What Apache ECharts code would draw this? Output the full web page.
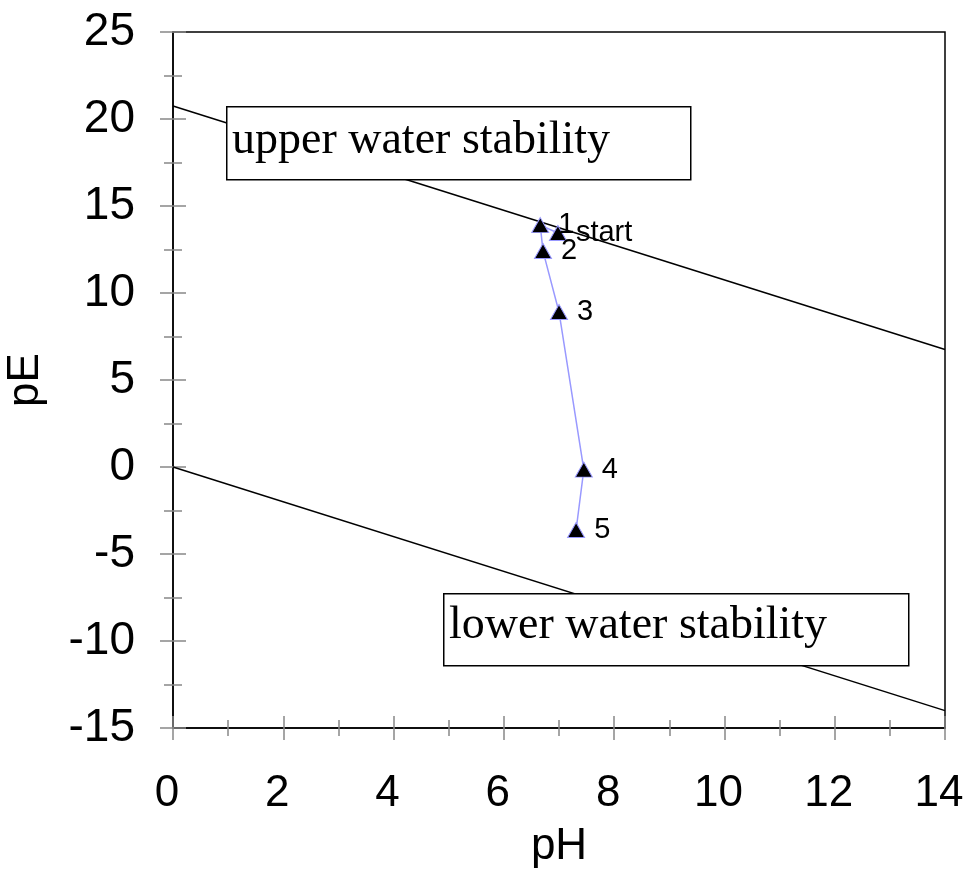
<!DOCTYPE html>
<html><head><meta charset="utf-8">
<script src="https://cdn.jsdelivr.net/npm/echarts@6/dist/echarts.min.js"></script>
<style>html,body{margin:0;padding:0;background:#fff}#c{width:968px;height:871px}</style>
</head><body><div id="c"></div>
<script>
const pointNames = ['start', '1', '2', '3', '4', '5'];
const pointPH = [6.98, 6.66, 6.71, 7.0, 7.45, 7.31];
const pointPE = [13.45, 13.9, 12.41, 8.91, -0.15, -3.62];
const upperLine = [[0, 20.75], [14, 6.75]];
const lowerLine = [[0, 0], [14, -14]];
const xTicks = {min: 0, max: 14, interval: 2};
const yTicks = {min: -15, max: 25, interval: 5};
const upperText = 'upper water stability';
const lowerText = 'lower water stability';

const chart = echarts.init(document.getElementById('c'));
const font = 'Liberation Sans, Arial, sans-serif';
const serif = '46px "Liberation Serif", "Times New Roman", serif';
function mkX(inside, main) {
  return {
    type: 'value', min: xTicks.min, max: xTicks.max, interval: xTicks.interval,
    position: 'bottom',
    name: main ? 'pH' : '', nameLocation: 'middle', nameGap: 97,
    nameTextStyle: {fontSize: 44, fontFamily: font, color: '#000'},
    axisLine: {show: main, onZero: false, lineStyle: {color: '#000', width: 1.5}},
    axisTick: {show: true, inside: inside, length: 12, lineStyle: {color: '#888', width: 1.5}},
    minorTick: {show: true, splitNumber: 2, length: 8, lineStyle: {color: '#888', width: 1.5}},
    axisLabel: {show: main, fontSize: 44, fontFamily: font, color: '#000', margin: 44, padding: [0, 12, 0, 0]},
    splitLine: {show: false}, minorSplitLine: {show: false}
  };
}
function mkY(inside, main) {
  return {
    type: 'value', min: yTicks.min, max: yTicks.max, interval: yTicks.interval,
    position: 'left',
    name: main ? 'pE' : '', nameLocation: 'middle', nameGap: 125,
    nameTextStyle: {fontSize: 44, fontFamily: font, color: '#000'},
    axisLine: {show: main, onZero: false, lineStyle: {color: '#000', width: 1.5}},
    axisTick: {show: true, inside: inside, length: 13, lineStyle: {color: '#888', width: 1.5}},
    minorTick: {show: true, splitNumber: 2, length: 9, lineStyle: {color: '#888', width: 1.5}},
    axisLabel: {show: main, fontSize: 46, fontFamily: font, color: '#000', margin: 38},
    splitLine: {show: false}, minorSplitLine: {show: false}
  };
}
const pts = pointPH.map((x, i) => ({name: pointNames[i], value: [x, pointPE[i]]}));
chart.setOption({
  animation: false,
  grid: {left: 173, right: 23, top: 32, bottom: 143, containLabel: false, outerBoundsMode: 'none',
    show: true, borderColor: '#000', borderWidth: 1.5, backgroundColor: 'transparent'},
  xAxis: [mkX(false, true), mkX(true, false)],
  yAxis: [mkY(false, true), mkY(true, false)],
  series: [
    {type: 'line', data: upperLine, showSymbol: false, symbol: 'none', lineStyle: {color: '#000', width: 1.5}, z: 2, silent: true},
    {type: 'line', data: lowerLine, showSymbol: false, symbol: 'none', lineStyle: {color: '#000', width: 1.5}, z: 2, silent: true},
    {type: 'line', data: pts, symbol: 'triangle', symbolSize: [17, 15], showSymbol: true,
      lineStyle: {color: '#9999ff', width: 1.5},
      itemStyle: {color: '#000', borderColor: '#9999ff', borderWidth: 1},
      label: {show: true, position: 'right', distance: 9, formatter: '{b}', fontSize: 29, fontFamily: font, color: '#000'},
      z: 5}
  ],
  graphic: [
    {type: 'rect', left: 226, top: 106, z: 100, zlevel: 1, shape: {width: 464, height: 73}, style: {fill: '#fff', stroke: '#000', lineWidth: 1.5}},
    {type: 'text', left: 232, top: 118, z: 101, zlevel: 1, style: {text: upperText, font: serif, fill: '#000'}},
    {type: 'rect', left: 443, top: 593, z: 100, zlevel: 1, shape: {width: 465, height: 72}, style: {fill: '#fff', stroke: '#000', lineWidth: 1.5}},
    {type: 'text', left: 449, top: 603, z: 101, zlevel: 1, style: {text: lowerText, font: serif, fill: '#000'}}
  ]
});
</script></body></html>
